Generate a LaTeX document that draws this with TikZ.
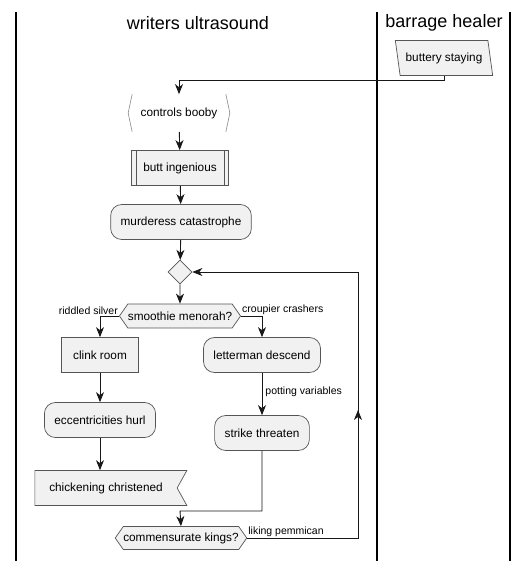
\documentclass[tikz,border=0pt]{standalone}
\usepackage{fontspec}
\setmainfont{Liberation Sans}
\usepackage{xcolor}
\definecolor{actFill}{HTML}{F1F1F1}
\definecolor{actBorder}{HTML}{555555}
\definecolor{flowLine}{HTML}{181818}
\usetikzlibrary{arrows.meta,shapes.geometric,shapes.symbols}

\tikzset{
  base/.style={draw=actBorder, fill=actFill, line width=0.7pt, minimum height=35pt,
    inner xsep=10pt, font=\fontsize{11.8}{14}\selectfont},
  actbox/.style={base, rounded corners=11pt},
  plainbox/.style={base},
  inbox/.style={base, trapezium, trapezium left angle=104, trapezium right angle=76,
    trapezium stretches=true, minimum width=98pt, inner xsep=2pt},
  flagbox/.style={base, signal, signal to=nowhere, signal from=east, signal pointer angle=122,
    minimum width=152pt, inner xsep=8pt},
  hexbox/.style={base, signal, signal to=west and east, signal pointer angle=110,
    minimum height=24pt, inner xsep=0pt},
  mergebox/.style={draw=actBorder, fill=actFill, line width=0.7pt, diamond,
    minimum width=24pt, minimum height=24pt, inner sep=0pt},
  flow/.style={draw=flowLine, line width=0.9pt, -{Stealth[length=10pt,width=8pt,inset=3pt]}},
  lane/.style={draw=black, line width=1.4pt},
  lanetitle/.style={font=\fontsize{18}{21}\selectfont},
  edgelabel/.style={font=\fontsize{10.5}{12.5}\selectfont, inner sep=1pt}
}

\begin{document}
\begin{tikzpicture}[x=1pt, y=-1pt]
  \useasboundingbox (0,0) rectangle (528,561);

  % swimlanes
  \draw[lane] (16,12) -- (16,561);
  \draw[lane] (377,12) -- (377,561);
  \draw[lane] (510,12) -- (510,561);
  \node[lanetitle] (laneWriters) at (198,23) {writers ultrasound};
  \node[lanetitle] (laneBarrage) at (444,23) {barrage healer};

  % activities
  \node[inbox] (buttery) at (444,58) {buttery staying};
  \node[base, draw=none, fill=none, minimum width=101pt, minimum height=37pt] (controls) at (179,113) {controls booby};
  \draw[actBorder!70, line width=0.6pt] ([xshift=4pt]controls.north west) -- (controls.west) -- ([xshift=4pt]controls.south west);
  \draw[actBorder!70, line width=0.6pt] ([xshift=-4pt]controls.north east) -- (controls.east) -- ([xshift=-4pt]controls.south east);
  \node[plainbox, minimum width=97pt] (butt) at (180,168) {butt ingenious};
  \draw[actBorder, line width=0.7pt] ([xshift=5pt]butt.north west) -- ([xshift=5pt]butt.south west);
  \draw[actBorder, line width=0.7pt] ([xshift=-5pt]butt.north east) -- ([xshift=-5pt]butt.south east);
  \node[actbox] (murder) at (181,222) {murderess catastrophe};
  \node[mergebox] (merge) at (180,272) {};
  \node[hexbox] (smoothie) at (180,316) {smoothie menorah?};
  \node[plainbox, minimum width=77pt] (clink) at (100,355) {clink room};
  \node[actbox] (letterman) at (262,355) {letterman descend};
  \node[actbox] (eccent) at (100,420) {eccentricities hurl};
  \node[actbox] (strike) at (262,433) {strike threaten};
  \node[flagbox] (chicken) at (106,488) {chickening christened};
  \node[hexbox, minimum height=23pt] (commens) at (181,538) {commensurate kings?};

  % helper points
  \coordinate (joinpt) at (180,511);
  \coordinate (loopx) at (358,0);
  \coordinate (loopmid) at (358,410);

  % connectors
  \draw[flow] (buttery.south) -- ++(0,5) -| (controls.north);
  \draw[flow] (controls) -- (butt);
  \draw[flow] (butt) -- (murder);
  \draw[flow] (murder) -- (merge);
  \draw[flow] (merge) -- (smoothie);
  \draw[flow] (smoothie.west) -| (clink.north);
  \node[edgelabel, anchor=south east] (lblRiddled) at (smoothie.west) {riddled silver};
  \draw[flow] (smoothie.east) -| (letterman.north);
  \node[edgelabel, anchor=south west] (lblCroupier) at (smoothie.east) {croupier crashers};
  \draw[flow] (clink) -- (eccent);
  \draw[flow] (eccent) -- (eccent |- chicken.north);
  \draw[flow] (letterman) -- node[edgelabel, right=2pt, pos=0.45] (lblPotting) {potting variables} (strike);
  \draw[flow] (strike.south) |- (joinpt) -- (commens.north);
  \draw[flow] (commens.east) -| (loopx |- merge.east) -- (merge.east);
  \draw[flow] (commens.east -| loopx) -- (loopmid);
  \node[edgelabel, anchor=south west] (lblLiking) at (commens.east) {liking pemmican};
\end{tikzpicture}
\end{document}
